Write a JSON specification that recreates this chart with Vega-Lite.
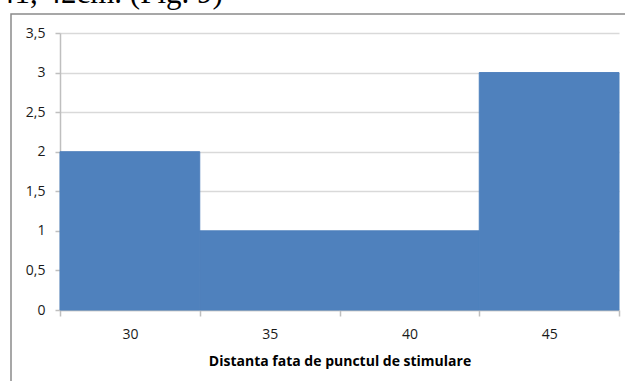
{
  "$schema": "https://vega.github.io/schema/vega-lite/v6.json",
  "width": 620,
  "height": 377,
  "autosize": {"type": "none"},
  "padding": {"left": 11, "top": 14, "right": 0, "bottom": 0},
  "background": "white",
  "title": {
    "text": "41, 42cm. (Fig. 9)",
    "font": "Liberation Serif",
    "fontSize": 31,
    "fontWeight": "normal",
    "color": "#000000",
    "anchor": "start",
    "frame": "group",
    "baseline": "alphabetic",
    "offset": 0,
    "dx": -12,
    "dy": 20
  },
  "data": {
    "values": [
      {"distanta": 30, "valoare": 2},
      {"distanta": 35, "valoare": 1},
      {"distanta": 40, "valoare": 1},
      {"distanta": 45, "valoare": 3}
    ]
  },
  "mark": {"type": "bar", "color": "#4F81BD", "stroke": "#4F81BD", "strokeWidth": 1},
  "encoding": {
    "x": {
      "field": "distanta",
      "type": "ordinal",
      "scale": {"range": [49, 608], "paddingInner": 0, "paddingOuter": 0},
      "axis": {
        "offset": -81,
        "tickBand": "extent",
        "grid": false,
        "labelAngle": 0,
        "domainColor": "#bfbfbf",
        "domainWidth": 1.5,
        "tickColor": "#bfbfbf",
        "tickWidth": 1.5,
        "tickSize": 6,
        "labelFont": "Open Sans",
        "labelFontSize": 14,
        "labelColor": "#1a1a1a",
        "labelPadding": 11,
        "title": "Distanta fata de punctul de stimulare",
        "titleFont": "Open Sans",
        "titleFontSize": 14,
        "titleFontWeight": "bold",
        "titleColor": "#000000",
        "titlePadding": 13
      }
    },
    "y": {
      "field": "valoare",
      "type": "quantitative",
      "scale": {"domain": [0, 3.5], "range": [296, 19], "nice": false, "zero": true},
      "axis": {
        "offset": -49,
        "values": [0, 0.5, 1, 1.5, 2, 2.5, 3, 3.5],
        "labelExpr": "replace(format(datum.value, '.1~f'), '.', ',')",
        "grid": true,
        "gridColor": "#d9d9d9",
        "gridWidth": 1.5,
        "domainColor": "#bfbfbf",
        "domainWidth": 1.5,
        "tickColor": "#bfbfbf",
        "tickWidth": 1.5,
        "tickSize": 5,
        "labelFont": "Open Sans",
        "labelFontSize": 14,
        "labelColor": "#1a1a1a",
        "labelPadding": 10,
        "title": null
      }
    }
  },
  "config": {
    "view": {"stroke": "#8a8a8a", "strokeWidth": 1.5}
  }
}
